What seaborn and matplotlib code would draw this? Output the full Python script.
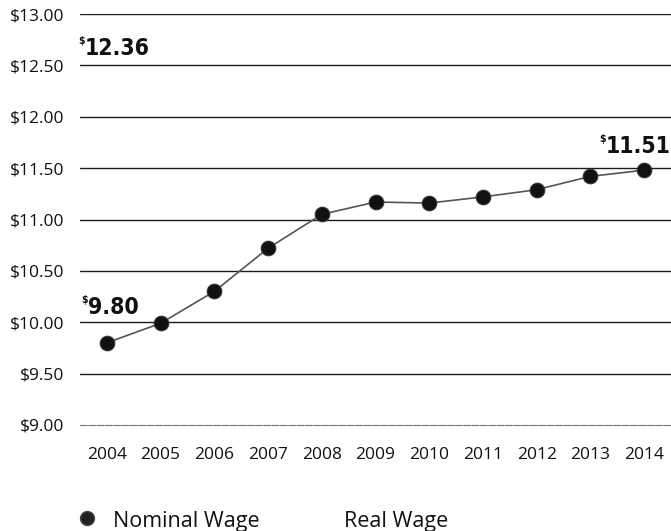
import matplotlib
matplotlib.use("Agg")
import matplotlib.pyplot as plt
import seaborn as sns
import pandas as pd
from matplotlib.lines import Line2D

years = ["2004", "2005", "2006", "2007", "2008", "2009", "2010", "2011", "2012", "2013", "2014"]
nominal_wage = [9.80, 9.99, 10.30, 10.72, 11.05, 11.17, 11.16, 11.22, 11.29, 11.42, 11.48]
y_ticks = [9.0, 9.5, 10.0, 10.5, 11.0, 11.5, 12.0, 12.5, 13.0]
callout_values = ["12.36", "9.80", "11.51"]
legend_labels = ["Nominal Wage", "Real Wage"]

sns.set_style("white")
plt.rcParams["font.family"] = ["Open Sans", "DejaVu Sans"]

W, H = 671, 531
fig = plt.figure(figsize=(W / 100, H / 100), dpi=100)
ax = fig.add_axes([80 / W, 1 - 425 / H, 591 / W, 411 / H])

df = pd.DataFrame({"year": years, "wage": nominal_wage})
sns.lineplot(data=df, x="year", y="wage", ax=ax, color="#555555", lw=1.2,
             marker="o", markersize=10.5, markerfacecolor="#111111",
             markeredgecolor="#333333", markeredgewidth=0.8, sort=False)

ax.set_xlim(-0.5, 10.5)
ax.set_ylim(9.0, 13.0)
ax.set_yticks(y_ticks)
ax.set_yticklabels([f"${v:.2f}" for v in y_ticks], fontsize=12.5)
ax.set_xticks(range(len(years)))
ax.set_xticklabels(years, fontsize=12.5)
ax.set_xlabel("")
ax.set_ylabel("")

for v in y_ticks[1:]:
    ax.axhline(v, color="#1a1a1a", lw=1.0, zorder=0)

for s in ["top", "left", "right"]:
    ax.spines[s].set_visible(False)
ax.spines["bottom"].set_color("#777777")
ax.spines["bottom"].set_linewidth(0.8)
ax.spines["bottom"].set_linestyle((0, (6, 1.5)))

ax.tick_params(axis="y", length=0, pad=11, colors="#111111")
ax.tick_params(axis="x", which="major", length=0, pad=15.5, colors="#111111")
ax.set_xticks([i - 0.5 for i in range(len(years) + 1)], minor=True)
ax.tick_params(axis="x", which="minor", direction="in", length=6, width=0.8, color="#666666")

def px(x, y):
    return x / W, 1 - y / H

big = dict(fontsize=16.5, fontweight="bold", family="DejaVu Sans", fontstretch="condensed",
           color="#111111", va="baseline")
small = dict(fontsize=7.5, fontweight="bold", family="DejaVu Sans", fontstretch="condensed",
             color="#111111", va="top", ha="right")

callouts = [(85, 55, callout_values[0], "left"),
            (88, 314, callout_values[1], "left"),
            (671, 153, callout_values[2], "right")]
for x, y, t, ha in callouts:
    txt = fig.text(*px(x, y), t, ha=ha, **big)
    fig.canvas.draw()
    bb = txt.get_window_extent()
    fig.text((bb.x0 - 0.5) / W, (H - (y - 19)) / H, "$", **small)

fig.add_artist(Line2D([87 / W], [1 - 518 / H], marker="o", markersize=10,
                      markerfacecolor="#222222", markeredgecolor="#444444",
                      transform=fig.transFigure))
fig.text(*px(113, 527), legend_labels[0], fontsize=15.5, color="#111111", va="baseline")
fig.text(*px(344, 527), legend_labels[1], fontsize=15.5, color="#111111", va="baseline")

fig.savefig("out.png", dpi=100)
